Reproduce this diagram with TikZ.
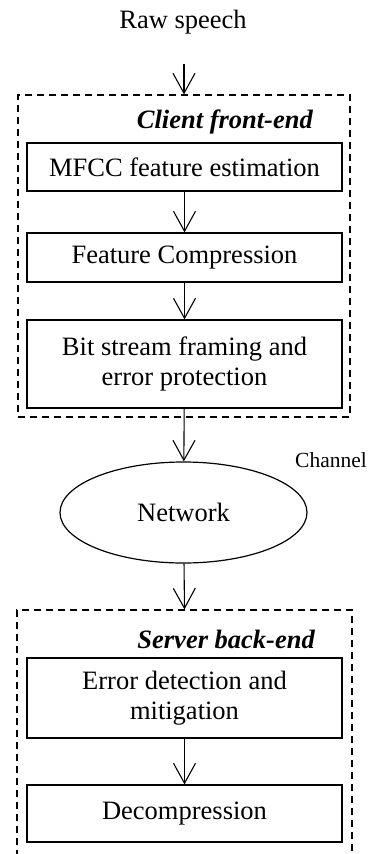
\documentclass[tikz,border=0pt]{standalone}
\usepackage{fontspec}
\setmainfont{Liberation Serif}
\usetikzlibrary{shapes.geometric,arrows.meta}

\begin{document}
\begin{tikzpicture}[x=1pt,y=-1pt,
	stagebox/.style={draw,line width=1.2pt,minimum width=315pt,inner sep=0pt,align=center,font=\fontsize{26.5}{30}\selectfont},
	flow/.style={line width=1.1pt,-{Straight Barb[length=20pt,width=22pt,line width=1.1pt]}},
	groupbox/.style={draw,line width=1.2pt,dash pattern=on 7pt off 5pt,inner sep=0pt},
	grouplabel/.style={anchor=base east,inner sep=0pt,font=\fontsize{26.5}{30}\selectfont\bfseries\itshape}]
		\useasboundingbox (0,0) rectangle (367,854);% Fixes the page size

		\node[anchor=base,inner sep=0pt,font=\fontsize{26.5}{30}\selectfont] (Raw) at (183,28) {Raw speech};
		\coordinate (SpeechIn) at (184,64);

		% Client side
		\node[groupbox,minimum width=332pt,minimum height=322pt] (Client) at (184,256) {};
		\node[grouplabel] (ClientLabel) at (313,128) {Client front-end};
		\node[stagebox,minimum height=48pt] (MFCC) at (184.5,167) {MFCC feature estimation};
		\node[stagebox,minimum height=49pt] (Compress) at (184.5,257.5) {Feature Compression};
		\node[stagebox,minimum height=88pt] (Framing) at (184.5,364) {Bit stream framing and\\error protection};

		% Channel
		\node[draw,ellipse,line width=1.2pt,inner sep=0pt,minimum width=247pt,minimum height=101pt,font=\fontsize{26.5}{30}\selectfont] (Network) at (183.5,512.5) {Network};
		\node[anchor=base west,inner sep=0pt,font=\fontsize{21.5}{24}\selectfont] (Channel) at (295,467) {Channel};

		% Server side (runs off the bottom of the page)
		\node[groupbox,minimum width=335pt,minimum height=290pt] (Server) at (184.5,755) {};
		\node[grouplabel] (ServerLabel) at (315,648) {Server back-end};
		\node[stagebox,minimum height=80pt] (Detect) at (184.5,698) {Error detection and\\mitigation};
		\node[stagebox,minimum height=57pt] (Decomp) at (184.5,813.5) {Decompression};

		\draw[flow] (SpeechIn) -- (Client.north);
		\draw[flow] (MFCC) -- (Compress);
		\draw[flow] (Compress) -- (Framing);
		\draw[flow] (Framing) -- (Network);
		\draw[flow] (Network) -- (Server.north);
		\draw[flow] (Detect) -- (Decomp);
\end{tikzpicture}
\end{document}
